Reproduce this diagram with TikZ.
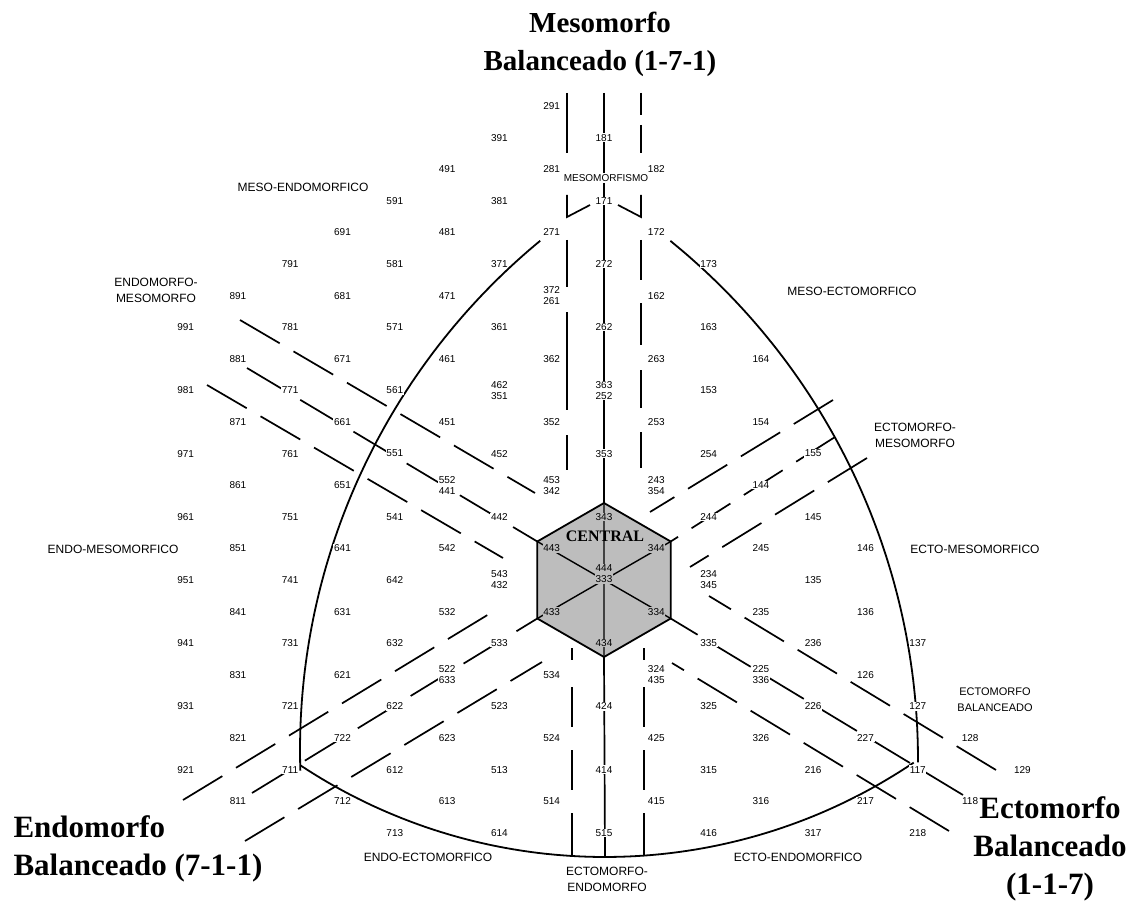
\documentclass[tikz,border=0pt]{standalone}
\usepackage{fontspec}
\setmainfont{Liberation Serif}
\setsansfont{Liberation Sans}
\definecolor{hexfill}{gray}{0.74}
\newcommand\So[3]{\node[num] (n#1#2#3) at ({604+52.3*(#3-#1)},{580-31.6*(2*#2-#1-#3)}) {#1#2#3};}
\newcommand\SoS[6]{\node[num] (n#1#2#3) at ({604+52.3*(#3-#1)},{580-31.6*(2*#2-#1-#3)}) {#1#2#3\\#4#5#6};}
\newcommand\Sh[3]{\node[num,fill=hexfill] (n#1#2#3) at ({604+52.3*(#3-#1)},{580-31.6*(2*#2-#1-#3)}) {#1#2#3};}
\newcommand\ShS[6]{\node[num,fill=hexfill] (n#1#2#3) at ({604+52.3*(#3-#1)},{574-31.6*(2*#2-#1-#3)}) {#1#2#3\\#4#5#6};}
\begin{document}
\begin{tikzpicture}[x=1pt,y=-1pt,
  num/.style={font=\sffamily\fontsize{10}{11}\selectfont, fill=white, inner sep=0.7pt, align=center},
  reg/.style={font=\sffamily\fontsize{12}{16}\selectfont, align=center},
  ttl/.style={font=\bfseries\fontsize{31}{38}\selectfont},
  band/.style={line width=1.7pt},
  dsh/.style={band, dash pattern=on 46pt off 16pt},
  arcl/.style={line width=1.8pt}]
\useasboundingbox (0,0) rectangle (1140,901);
\fill[white] (0,0) rectangle (1140,901);

% central hexagon
\coordinate (hT) at (604,503);
\coordinate (hUR) at (670.7,541.5);
\coordinate (hLR) at (670.7,618.5);
\coordinate (hB) at (604,657);
\coordinate (hLL) at (537.3,618.5);
\coordinate (hUL) at (537.3,541.5);
\filldraw[fill=hexfill, draw=black, line width=1.8pt] (hT) -- (hUR) -- (hLR) -- (hB) -- (hLL) -- (hUL) -- cycle;
\draw[line width=1.4pt] (hT) -- (hB) (hUL) -- (hLR) (hUR) -- (hLL);

% upward band
\draw[band] (604,93) -- (hT);
\draw[band] (567,93) -- (567,153);
\draw[band] (567,195) -- (567,217) -- (590,205);
\draw[band] (567,240) -- (567,287) (567,312) -- (567,410) (567,435) -- (567,470);
\draw[band] (641,93) -- (641,115) (641,125) -- (641,153);
\draw[band] (641,195) -- (641,217) -- (618,205);
\draw[band] (641,240) -- (641,280) (641,303) -- (641,345) (641,370) -- (641,408) (641,432) -- (641,468);

% downward band
\draw[band] (hB) -- (605,856);
\draw[band] (572,648) -- (572,660) (572,687) -- (572,727) (572,750) -- (572,790) (572,813) -- (572,856);
\draw[band] (644,648) -- (644,660) (644,687) -- (644,727) (644,750) -- (644,790) (644,813) -- (644,856);

% upper-left band
\draw[dsh] (240,320) -- (535,493);
\draw[dsh] (247,368) -- (hUL);
\draw[dsh] (207,385) -- (503,558);
% upper-right band
\draw[dsh] (833,400) -- (650,512);
\draw[dsh] (835,437) -- (hUR);
\draw[dsh] (867,458) -- (690,567);
% lower-left band
\draw[dsh] (183,800) -- (499,608);
\draw[dsh] (252,793) -- (hLL);
\draw[dsh] (245,841) -- (542,662);
% lower-right band
\draw[dsh] (996,770) -- (709,596);
\draw[dsh] (963,795) -- (hLR);
\draw[dsh] (949,831) -- (672,663);

% boundary arcs
\draw[arcl] plot[domain=178.2:230.5, samples=80] ({960+660*cos(\x)},{750+660*sin(\x)});
\draw[arcl] plot[domain=-51:0.2, samples=80] ({250+668*cos(\x)},{760+668*sin(\x)});
\draw[arcl] plot[domain=56:123.5, samples=80] ({605+552*cos(\x)},{305+552*sin(\x)});

% somatotype labels
\So991 \So981 \So971 \So961 \So951 \So941 \So931 \So921
\So891 \So881 \So871 \So861 \So851 \So841 \So831 \So821 \So811
\So791 \So781 \So771 \So761 \So751 \So741 \So731 \So721 \So711
\So691 \So681 \So671 \So661 \So651 \So641 \So631 \So621 \So722 \So712
\So591 \So581 \So571 \So561 \So551 \So541 \So642 \So632 \So622 \So612 \So713
\So491 \So481 \So471 \So461 \So451 \SoS552441 \So542 \So532 \SoS522633 \So623 \So613
\So391 \So381 \So371 \So361 \SoS462351 \So452 \So442 \SoS543432 \So533 \So523 \So513 \So614
\So291 \So281 \So271 \SoS372261 \So362 \So352 \SoS453342 \Sh443 \Sh433 \So534 \So524 \So514
\So181 \So171 \So272 \So262 \SoS363252 \So353 \Sh343 \ShS444333 \Sh434 \So424 \So414 \So515
\So182 \So172 \So162 \So263 \So253 \SoS243354 \Sh344 \Sh334 \SoS324435 \So425 \So415
\So173 \So163 \So153 \So254 \So244 \SoS234345 \So335 \So325 \So315 \So416
\So164 \So154 \So144 \So245 \So235 \SoS225336 \So326 \So316
\So155 \So145 \So135 \So236 \So226 \So216 \So317
\So146 \So136 \So126 \So227 \So217
\So137 \So127 \So117 \So218
\So128 \So118
\So129

\node[font=\bfseries\fontsize{16}{18}\selectfont] (central) at (605,536) {CENTRAL};

% region labels
\node[reg] (r1) at (303,187) {MESO-ENDOMORFICO};
\node[reg, font=\sffamily\fontsize{10}{12}\selectfont, fill=white, inner sep=1pt] (r2) at (606,178) {MESOMORFISMO};
\node[reg] (r3) at (156,290) {ENDOMORFO-\\MESOMORFO};
\node[reg] (r4) at (852,291) {MESO-ECTOMORFICO};
\node[reg] (r5) at (915,435) {ECTOMORFO-\\MESOMORFO};
\node[reg] (r6) at (113,549) {ENDO-MESOMORFICO};
\node[reg] (r7) at (975,549) {ECTO-MESOMORFICO};
\node[reg, font=\sffamily\fontsize{11}{16}\selectfont] (r8) at (995,700) {ECTOMORFO\\BALANCEADO};
\node[reg] (r9) at (428,857) {ENDO-ECTOMORFICO};
\node[reg] (r10) at (607,879) {ECTOMORFO-\\ENDOMORFO};
\node[reg] (r11) at (798,857) {ECTO-ENDOMORFICO};

% titles
\node[ttl, font=\bfseries\fontsize{29}{38}\selectfont, align=center] (tmeso) at (600,44) {Mesomorfo\\Balanceado (1-7-1)};
\node[ttl, align=left, anchor=west] (tendo) at (10,849) {Endomorfo\\Balanceado (7-1-1)};
\node[ttl, align=center] (tecto) at (1050,849) {Ectomorfo\\Balanceado\\(1-1-7)};
\end{tikzpicture}
\end{document}
